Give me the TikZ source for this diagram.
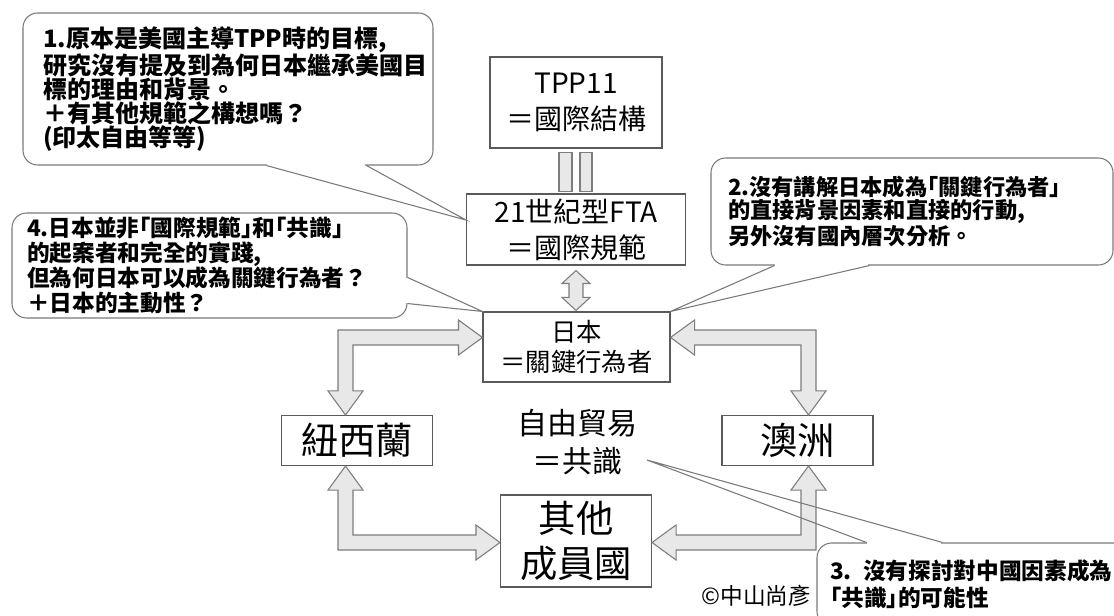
\documentclass[tikz,border=0pt]{standalone}
\usepackage{fontspec}
\setmainfont{Noto Sans CJK TC}
\usetikzlibrary{calc}
\definecolor{boxline}{HTML}{5A5A5A}
\definecolor{bubline}{HTML}{7A7A7A}
\definecolor{arrfill}{HTML}{E8E8E8}
\definecolor{arrline}{HTML}{7D7D7D}
\tikzset{
 box/.style={draw=boxline, line width=0.8pt, fill=white, inner sep=0pt, align=center},
 plain/.style={inner sep=0pt, align=center},
 bubble/.style={draw=bubline, line width=0.8pt, fill=white, rounded corners=11pt, align=left, inner ysep=2pt},
 tail/.style={draw=bubline, line width=0.8pt},
 blk/.style={draw=arrline, fill=arrfill, line width=0.8pt, line join=miter},
}
\newcommand\LArrow[4]{%
\draw[blk] let \p1=(#1), \p2=(#2) in
({\x1},{\y1}) -- ({\x1-(#3)*18pt},{\y1-(#4)*13.125pt}) -- ({\x1-(#3)*18pt},{\y1-(#4)*5.625pt}) -- ({\x2-(#3)*5.625pt},{\y1-(#4)*5.625pt}) -- ({\x2-(#3)*5.625pt},{\y2-(#4)*18pt}) -- ({\x2-(#3)*13.125pt},{\y2-(#4)*18pt}) -- ({\x2},{\y2}) -- ({\x2+(#3)*13.125pt},{\y2-(#4)*18pt}) -- ({\x2+(#3)*5.625pt},{\y2-(#4)*18pt}) -- ({\x2+(#3)*5.625pt},{\y1+(#4)*5.625pt}) -- ({\x1-(#3)*18pt},{\y1+(#4)*5.625pt}) -- ({\x1-(#3)*18pt},{\y1+(#4)*13.125pt}) -- cycle;}
\begin{document}
\begin{tikzpicture}[x=0.75pt,y=-0.75pt]
\path[use as bounding box] (0,0) rectangle (1114,616);
\clip (0,0) rectangle (1114,616);
\fill[white] (0,0) rectangle (1114,616);

% boxes
\node[box, minimum width=172*0.75pt, minimum height=91*0.75pt, font=\fontsize{21}{27}\selectfont] (tpp) at (576,102.5) {TPP11\\＝國際結構};
\node[box, minimum width=219*0.75pt, minimum height=71*0.75pt, font=\fontsize{21}{27}\selectfont] (fta) at (576,229.5) {21世紀型FTA\\＝國際規範};
\node[box, minimum width=187*0.75pt, minimum height=70*0.75pt, font=\fontsize{19}{22.5}\selectfont] (japan) at (576.5,347) {日本\\＝關鍵行為者};
\node[box, minimum width=151*0.75pt, minimum height=50*0.75pt, font=\fontsize{28}{34}\selectfont] (nz) at (357,440.5) {紐西蘭};
\node[box, minimum width=151*0.75pt, minimum height=50*0.75pt, font=\fontsize{28}{34}\selectfont] (au) at (797.5,440.5) {澳洲};
\node[box, minimum width=151*0.75pt, minimum height=92*0.75pt, font=\fontsize{28}{34}\selectfont] (other) at (576,541) {其他\\成員國};
\node[plain, font=\fontsize{22.5}{28}\selectfont] (free) at (577,442) {自由貿易\\＝共識};
\node[plain, font=\fontsize{17}{20}\selectfont] (copy) at (756.5,596) {©中山尚彥};

% corner points of the block arrows
\coordinate (cL) at (345.5,337.5);
\coordinate (cR) at (808.5,337.5);
\coordinate (bL) at (345.5,542.5);
\coordinate (bR) at (808.5,542.5);
\LArrow{cL -| japan.west}{cL |- nz.north}{1}{-1}
\LArrow{cR -| japan.east}{cR |- au.north}{-1}{-1}
\LArrow{bL -| other.west}{bL |- nz.south}{1}{1}
\LArrow{bR -| other.east}{bR |- au.south}{-1}{1}

% equals bars between TPP11 and FTA
\draw[blk] let \p1=(tpp.south), \p2=(fta.north) in
  ({\x1-12.75pt},{\y1-3pt}) rectangle ({\x1-3pt},{\y2+1.5pt})
  ({\x1+3pt},{\y1-3pt}) rectangle ({\x1+12pt},{\y2+1.5pt});

% up-down arrow between FTA and Japan
\draw[blk] let \p1=([yshift=-3.75pt]fta.south), \p2=([yshift=0.75pt]japan.north) in
  ({\x1},{\y1}) -- ({\x1+10.5pt},{\y1-9.75pt}) -- ({\x1+5.25pt},{\y1-9.75pt}) -- ({\x1+5.25pt},{\y2+9.75pt}) -- ({\x1+10.5pt},{\y2+9.75pt}) -- ({\x1},{\y2}) -- ({\x1-10.5pt},{\y2+9.75pt}) -- ({\x1-5.25pt},{\y2+9.75pt}) -- ({\x1-5.25pt},{\y1-9.75pt}) -- ({\x1-10.5pt},{\y1-9.75pt}) -- cycle;

% bubbles
\node[bubble, minimum height=152*0.75pt, text width=370*0.75pt, inner xsep=15pt, font=\bfseries\fontsize{18}{18}\selectfont] (b1) at (228,89)
 {1.原本是美國主導TPP時的目標,\\研究沒有提及到為何日本繼承美國目\\標的理由和背景。\\＋有其他規範之構想嗎？\\(印太自由等等)};
\node[bubble, minimum height=107*0.75pt, text width=368*0.75pt, inner xsep=12.75pt, font=\bfseries\fontsize{16.7}{17.25}\selectfont] (b2) at (912,211.5)
 {2.沒有講解日本成為｢關鍵行為者｣\\的直接背景因素和直接的行動,\\另外沒有國內層次分析。};
\node[bubble, minimum height=105*0.75pt, text width=365*0.75pt, inner xsep=11.25pt, font=\bfseries\fontsize{17}{18.75}\selectfont] (b4) at (209.5,265.5)
 {4.日本並非｢國際規範｣和｢共識｣\\的起案者和完全的實踐,\\但為何日本可以成為關鍵行為者？\\＋日本的主動性？};
\node[bubble, minimum height=83*0.75pt, text width=287*0.75pt, inner xsep=9.75pt, font=\bfseries\fontsize{17}{20}\selectfont] (b3) at (973.5,584.5)
 {3. 沒有探討對中國因素成為\\｢共識｣的可能性};

% tails
\coordinate (t1) at ([yshift=7.1pt]fta.west);
\coordinate (t3) at (647,460);
\draw[white, line width=1.8pt] ($(b1.south west)+(245,0)$) -- ($(b1.south west)+(343,0)$);
\draw[tail] ($(b1.south west)+(244,0)$) -- (t1) -- ($(b1.south west)+(344,0)$);
\draw[white, line width=1.8pt] ($(b2.south west)+(65,0)$) -- ($(b2.south west)+(158,0)$);
\draw[tail] ($(b2.south west)+(64,0)$) -- (japan.north east) -- ($(b2.south west)+(159,0)$);
\draw[white, line width=1.8pt] ($(b4.north east)+(0,66)$) -- ($(b4.south east)+(0,-16)$);
\draw[tail] ($(b4.north east)+(0,65)$) -- (japan.north west) -- ($(b4.south east)+(0,-15)$);
\draw[white, line width=1.8pt] ($(b3.north west)+(51,0)$) -- ($(b3.north west)+(125,0)$);
\draw[tail] ($(b3.north west)+(50,0)$) -- (t3) -- ($(b3.north west)+(126,0)$);
\end{tikzpicture}
\end{document}
